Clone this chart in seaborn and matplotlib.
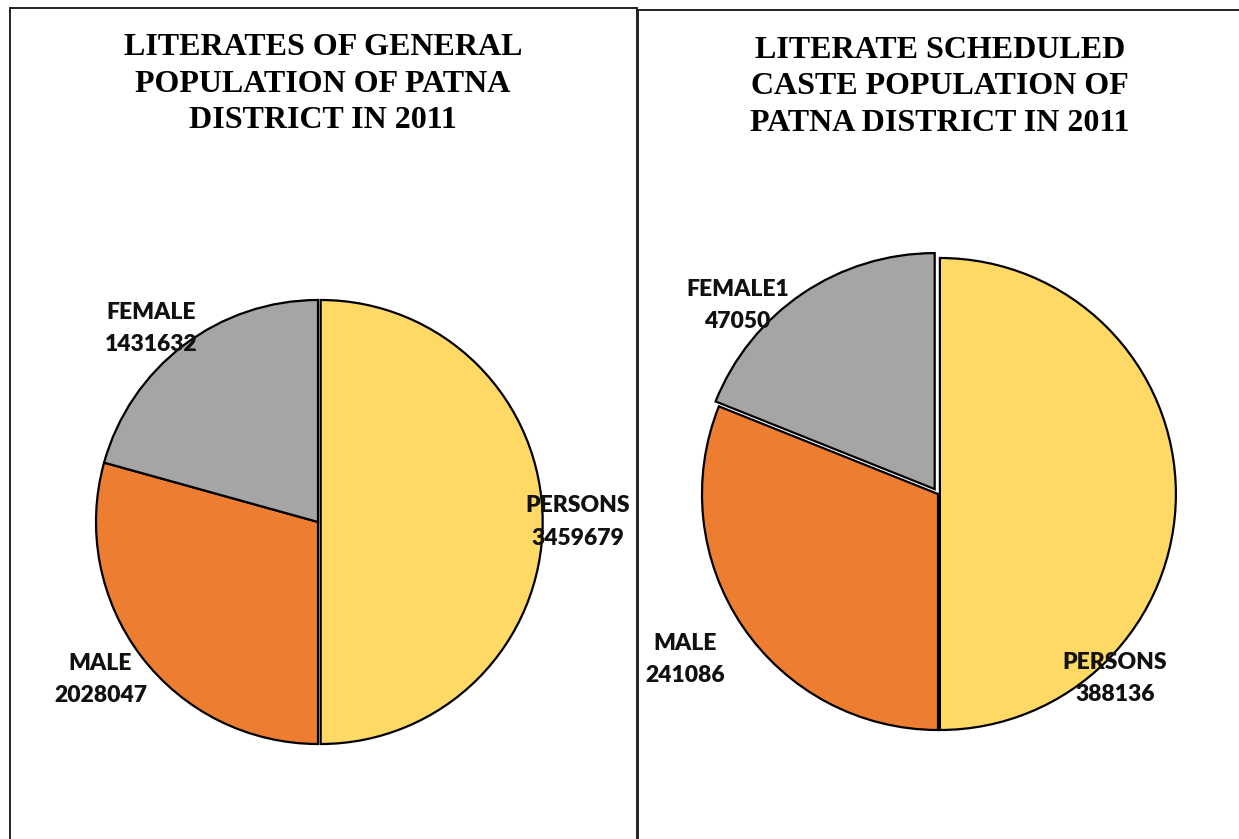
import matplotlib
matplotlib.use("Agg")
import matplotlib.pyplot as plt
from matplotlib.patches import Rectangle
import seaborn as sns

# data
categories = ["PERSONS", "MALE", "FEMALE"]
general_values = [3459679, 2028047, 1431632]
sc_values = [388136, 241086, 147050]
sc_label_names = ["PERSONS", "MALE", "FEMALE1"]
sc_label_values = ["388136", "241086", "47050"]

slice_colors = ["#FFD966", "#ED7D31", "#A5A5A5"]

sns.set_theme(style="white")
plt.rcParams["font.family"] = ["Lato", "DejaVu Sans"]

W, H = 1239, 839
fig = plt.figure(figsize=(W / 100, H / 100), dpi=100)
fig.patch.set_facecolor("white")

# panel frames
for x0, y0, x1 in [(10, 8, 637), (638, 10, 1245)]:
    fig.patches.append(Rectangle((x0 / W, -0.05), (x1 - x0) / W, 1.05 - y0 / H,
                                 transform=fig.transFigure, fill=False,
                                 edgecolor="#222222", linewidth=1.4))


def pie_axes(cx, cy, r):
    # square axes with 1 data unit == r pixels, centred on (cx, cy)
    half = 1.3 * r
    return fig.add_axes([(cx - half) / W, 1 - (cy + half) / H, 2 * half / W, 2 * half / H])


def fix_limits(ax):
    # pie() resets the limits, so set them afterwards
    ax.set_xlim(-1.3, 1.3)
    ax.set_ylim(-1.3, 1.3)
    ax.axis("off")


title_font = dict(family="Liberation Serif", fontweight="bold", fontsize=23,
                  ha="center", va="center", linespacing=1.33, color="black")
fig.text(323 / W, 1 - 84 / H, "LITERATES OF GENERAL\nPOPULATION OF PATNA\nDISTRICT IN 2011",
         **title_font)
fig.text(940 / W, 1 - 87 / H, "LITERATE SCHEDULED\nCASTE POPULATION OF\nPATNA DISTRICT IN 2011",
         **title_font)

label_font = dict(fontweight="heavy", fontsize=16.5, ha="center", va="center",
                  linespacing=1.65, color="#111111")

# left pie
ax1 = pie_axes(318, 522, 222)
ax1.pie(general_values, colors=slice_colors, startangle=90, counterclock=False,
        explode=[0.012, 0, 0],
        wedgeprops=dict(edgecolor="black", linewidth=1.6))
fix_limits(ax1)
left_pos = [(1.17, 0.0), (-0.98, -0.71), (-0.75, 0.87)]
for name, val, (x, y) in zip(categories, general_values, left_pos):
    ax1.text(x, y, f"{name}\n{val}", **label_font)

# right pie
ax2 = pie_axes(938, 494, 236)
ax2.pie(sc_values, colors=slice_colors, startangle=90, counterclock=False,
        explode=[0.008, 0, 0.025],
        wedgeprops=dict(edgecolor="black", linewidth=1.6))
fix_limits(ax2)
right_pos = [(0.75, -0.78), (-1.07, -0.70), (-0.85, 0.80)]
for name, val, (x, y) in zip(sc_label_names, sc_label_values, right_pos):
    ax2.text(x, y, f"{name}\n{val}", **label_font)

fig.savefig("out.png", dpi=100, facecolor="white")
